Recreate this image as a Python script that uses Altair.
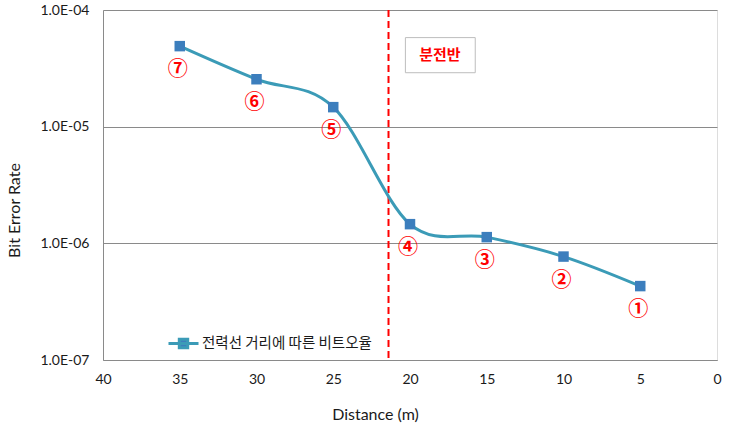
import altair as alt
import pandas as pd

# ---- data ----
distance = [35, 30, 25, 20, 15, 10, 5]
ber = [4.9e-5, 2.55e-5, 1.47e-5, 1.46e-6, 1.13e-6, 7.7e-7, 4.3e-7]
point_labels = ["⑦", "⑥", "⑤", "④", "③", "②", "①"]
series_name = "전력선 거리에 따른 비트오율"

x_ticks = [40, 35, 30, 25, 20, 15, 10, 5, 0]
y_ticks = [1e-7, 1e-6, 1e-5, 1e-4]

panel_distance = [21.4]          # red dashed marker (distribution board)
panel_label = ["분전반"]
panel_label_x = [18.05]
panel_label_y = [4.1e-5]
panel_box_x = [20.3]
panel_box_x2 = [15.75]
panel_box_y = [5.8e-5]
panel_box_y2 = [2.9e-5]

df = pd.DataFrame({"distance": distance, "ber": ber, "label": point_labels,
                   "series": [series_name] * len(distance)})
vline = pd.DataFrame({"d": panel_distance})
box = pd.DataFrame({"x": panel_box_x, "x2": panel_box_x2, "y": panel_box_y, "y2": panel_box_y2})
lab = pd.DataFrame({"x": panel_label_x, "y": panel_label_y, "t": panel_label})

LINE_C = "#3B9BB7"
MARK_C = "#3C7EBD"
GRID_C = "#8A8A8A"
TXT_C = "#1a1a1a"

xscale = alt.Scale(domain=[0, 40], reverse=True, nice=False)
yscale = alt.Scale(type="log", domain=[1e-7, 1e-4], nice=False)

xaxis = alt.Axis(values=x_ticks, title="Distance (m)", grid=False, ticks=False,
                 domainColor=GRID_C, labelFont="Lato", labelFontSize=14, labelColor=TXT_C,
                 labelPadding=12, titleFont="Lato", titleFontSize=16, titleFontWeight="normal",
                 titleColor=TXT_C, titleX=272, titleY=46, labelFlush=False)
yaxis = alt.Axis(values=y_ticks, title="Bit Error Rate", grid=True, gridColor=GRID_C,
                 ticks=False, domainColor=GRID_C,
                 labelExpr="'1.0E-' + format(-round(log(datum.value)/LN10), '02d')",
                 labelFont="Lato", labelFontSize=14, labelColor=TXT_C, labelPadding=14,
                 titleFont="Lato", titleFontSize=16, titleFontWeight="normal", titleColor=TXT_C,
                 titleX=-89, titleY=200, titleAngle=-90, titleAlign="center",
                 titleBaseline="middle")

base = alt.Chart(df)

line = base.mark_line(interpolate="cardinal", strokeWidth=3, color=LINE_C).encode(
    x=alt.X("distance:Q", scale=xscale, axis=xaxis),
    y=alt.Y("ber:Q", scale=yscale, axis=yaxis),
    color=alt.Color("series:N", scale=alt.Scale(range=[LINE_C]),
                    legend=alt.Legend(title=None, orient="none", legendX=64, legendY=317,
                                      symbolType="M-1,0L1,0M-0.28,-0.28L0.28,-0.28L0.28,0.28L-0.28,0.28Z",
                                      symbolSize=900, symbolStrokeWidth=3,
                                      symbolFillColor=MARK_C, symbolStrokeColor=LINE_C,
                                      labelFont="Noto Sans CJK KR", labelFontSize=14.5,
                                      labelColor=TXT_C, labelLimit=400, labelOffset=2)),
)

points = base.mark_square(size=110, color=MARK_C, opacity=1, filled=True).encode(
    x="distance:Q", y="ber:Q")

labels = base.mark_text(font="Noto Sans CJK KR", fontSize=20, fontWeight="bold",
                        color="#FF0000", dy=24, dx=-2).encode(
    x="distance:Q", y="ber:Q", text="label:N")

vrule = alt.Chart(vline).mark_rule(color="#FF0000", strokeWidth=2, strokeDash=[7, 4]).encode(
    x="d:Q")

boxm = alt.Chart(box).mark_rect(fill="white", stroke="#BDBDBD", strokeWidth=1).encode(
    x="x:Q", x2="x2:Q", y="y:Q", y2="y2:Q")

boxt = alt.Chart(lab).mark_text(font="Noto Sans CJK KR", fontSize=15, color="#FF0000",
                                fontWeight="bold").encode(x="x:Q", y="y:Q", text="t:N")

chart = alt.layer(vrule, line, points, labels, boxm, boxt).properties(
    width=614, height=350,
    autosize=alt.AutoSizeParams(type="none"),
    padding={"left": 103, "top": 10, "right": 34, "bottom": 73},
).configure_view(stroke=GRID_C, strokeWidth=1).configure(background="white")

chart.save("out.html", embed_options={"renderer": "svg", "actions": False})
